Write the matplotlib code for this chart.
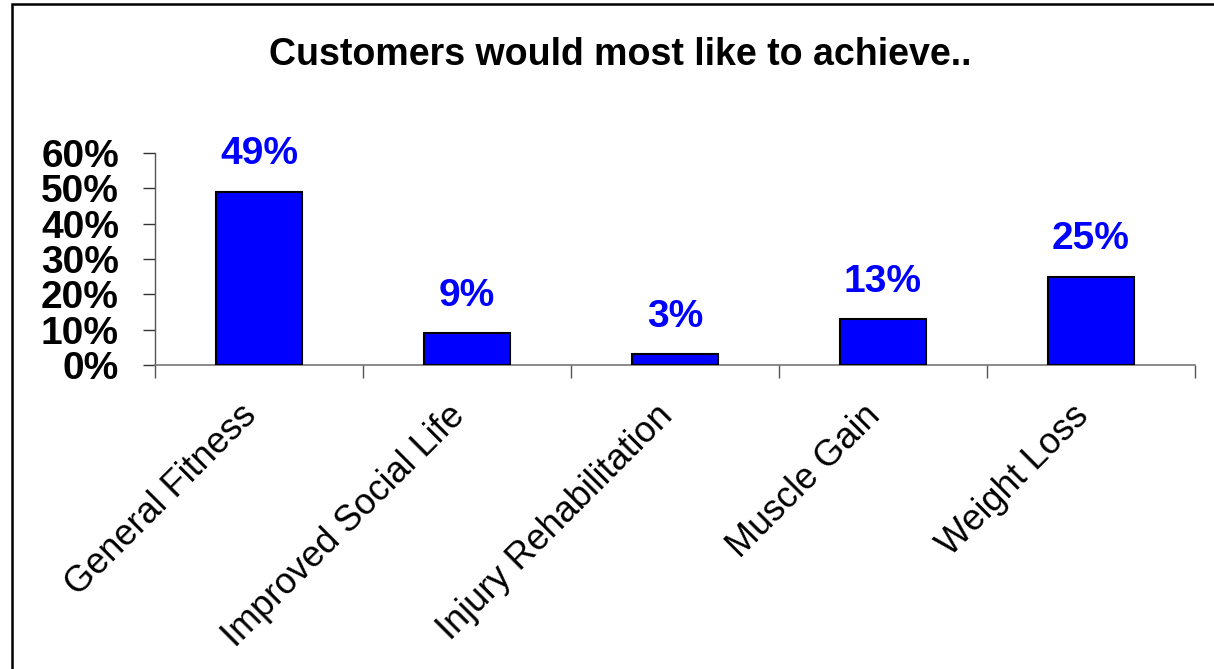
import matplotlib.pyplot as plt
import matplotlib.patches as mpatches
import matplotlib.transforms as mtransforms
import numpy as np

# Chart data
categories = ["General Fitness", "Improved Social Life", "Injury Rehabilitation",
              "Muscle Gain", "Weight Loss"]
shares = [0.49, 0.09, 0.03, 0.13, 0.25]
value_labels = ["49%", "9%", "3%", "13%", "25%"]
y_ticks = [0.0, 0.1, 0.2, 0.3, 0.4, 0.5, 0.6]
y_tick_labels = ["0%", "10%", "20%", "30%", "40%", "50%", "60%"]
title = "Customers would most like to achieve.."

plt.rcParams['font.family'] = ['Liberation Sans', 'DejaVu Sans']

W, H = 1214, 669
fig = plt.figure(figsize=(W / 100, H / 100), dpi=100)
ax = fig.add_axes([155 / W, 1 - 365 / H, (1195 - 155) / W, (365 - 153) / H])

# Outer frame (runs off the right and bottom edges)
frame = mpatches.Rectangle((12 / W, -0.2), 1.5, (H - 4) / H + 0.2, transform=fig.transFigure,
                           fill=False, edgecolor='black', linewidth=1.8)
fig.patches.append(frame)

x = np.arange(len(categories))
ax.bar(x, shares, width=0.41, color='#0000FF', edgecolor='black', linewidth=1.5, zorder=3)

for xi, v, lab in zip(x, shares, value_labels):
    ax.annotate(lab, (xi, v), xytext=(0, 27), textcoords='offset points',
                ha='center', va='center', color='#0000FF', fontsize=28, fontweight='bold')

ax.set_xlim(-0.5, len(categories) - 0.5)
ax.set_ylim(0, 0.6)
ax.set_yticks(y_ticks)
ax.set_yticklabels(y_tick_labels, fontsize=28, fontweight='bold')

# Ticks on category boundaries, labels at centres
ax.set_xticks(np.arange(len(categories) + 1) - 0.5)
ax.set_xticklabels([])
ax.set_xticks(x, minor=True)
ax.set_xticklabels(categories, minor=True, rotation=45, ha='right', rotation_mode='anchor',
                   fontsize=26)
ax.tick_params(axis='x', which='minor', length=0, pad=0)
ax.tick_params(axis='x', which='major', length=9, width=1, color='#555555', direction='out')
ax.tick_params(axis='y', length=9, width=1, color='#333333', pad=17)

shift = mtransforms.ScaledTranslation(-20 / 100, -33 / 100, fig.dpi_scale_trans)
for lab in ax.get_xticklabels(minor=True):
    lab.set_transform(lab.get_transform() + shift)

for side in ['top', 'right']:
    ax.spines[side].set_visible(False)
ax.spines['left'].set_color('#555555')
ax.spines['bottom'].set_color('#777777')
ax.spines['left'].set_linewidth(1)
ax.spines['bottom'].set_linewidth(1.2)

fig.text(620 / W, 1 - 65 / H, title, ha='center', va='baseline', fontsize=27, fontweight='bold')

fig.savefig("out.png", dpi=100)
